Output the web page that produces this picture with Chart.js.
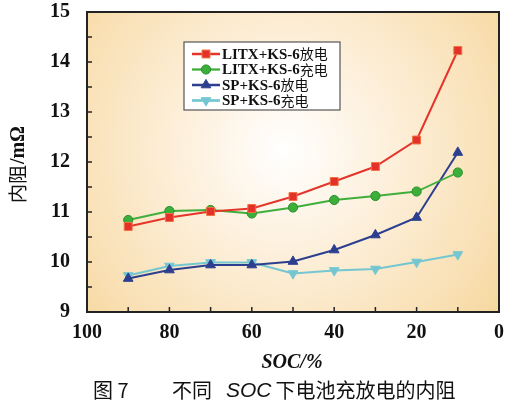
<!DOCTYPE html>
<html>
<head>
<meta charset="utf-8">
<script src="https://cdn.jsdelivr.net/npm/chart.js@4.4.0/dist/chart.umd.min.js"></script>
<style>
  html, body { margin: 0; padding: 0; background: #fff; }
  #wrap { width: 515px; height: 408px; position: relative; }
</style>
</head>
<body>
<div id="wrap"><canvas id="chart"></canvas></div>
<script>
// SOC (%) at each measurement
const soc = [90, 80, 70, 60, 50, 40, 30, 20, 10]
// internal resistance, mOhm
const litxDischarge = [10.71, 10.89, 11.01, 11.07, 11.31, 11.61, 11.91, 12.44, 14.23]
const litxCharge = [10.84, 11.02, 11.04, 10.97, 11.09, 11.24, 11.32, 11.41, 11.79]
const spDischarge = [9.67, 9.84, 9.94, 9.94, 10.01, 10.24, 10.54, 10.89, 12.19]
const spCharge = [9.73, 9.92, 9.99, 9.99, 9.77, 9.83, 9.86, 10.0, 10.15]

const seriesNames = [['LITX+KS-6', '放电'], ['LITX+KS-6', '充电'], ['SP+KS-6', '放电'], ['SP+KS-6', '充电']]
const xTicks = [100, 80, 60, 40, 20, 0]
const yTicks = [9, 10, 11, 12, 13, 14, 15]

const serif = '"Liberation Serif", "Times New Roman", serif'
const cjk = '"Noto Sans CJK SC", sans-serif'

const toPoints = ys => soc.map((x, i) => ({ x: x, y: ys[i] }))

// plot background, frame and inward ticks
const framePlugin = {
  id: 'frame',
  beforeDatasetsDraw(chart) {
    const { ctx, chartArea: a } = chart
    ctx.save()
    const g = ctx.createRadialGradient(285, 150, 0, 285, 150, 290)
    g.addColorStop(0, '#ffffff')
    g.addColorStop(0.35, '#fdf0dc')
    g.addColorStop(0.75, '#f9e0b4')
    g.addColorStop(1, '#f5d496')
    ctx.fillStyle = g
    ctx.fillRect(a.left, a.top, a.right - a.left, a.bottom - a.top)
    ctx.restore()
  },
  afterDatasetsDraw(chart) {
    const { ctx, chartArea: a, scales } = chart
    ctx.save()
    ctx.strokeStyle = '#222'
    ctx.lineWidth = 1.5
    for (let v = 10; v < 100; v += 10) {
      const px = scales.x.getPixelForValue(v)
      ctx.beginPath()
      ctx.moveTo(px, a.bottom)
      ctx.lineTo(px, a.bottom - 5)
      ctx.stroke()
    }
    for (let v = 9.5; v < 15; v += 0.5) {
      const py = scales.y.getPixelForValue(v)
      ctx.beginPath()
      ctx.moveTo(a.left, py)
      ctx.lineTo(a.left + 5, py)
      ctx.stroke()
    }
    ctx.lineWidth = 2
    ctx.strokeRect(a.left, a.top, a.right - a.left, a.bottom - a.top)
    ctx.restore()
  },
}

// boxed legend inside the plot
const legendPlugin = {
  id: 'boxLegend',
  afterDatasetsDraw(chart) {
    const { ctx } = chart
    const x0 = 184, y0 = 42, w = 156, h = 68
    ctx.save()
    ctx.fillStyle = '#fff'
    ctx.fillRect(x0, y0, w, h)
    ctx.strokeStyle = '#555'
    ctx.lineWidth = 1.2
    ctx.strokeRect(x0, y0, w, h)
    chart.data.datasets.forEach((ds, i) => {
      const cy = y0 + 12 + i * 15.5
      ctx.strokeStyle = ds.borderColor
      ctx.lineWidth = ds.borderWidth + 0.5
      ctx.beginPath()
      ctx.moveTo(x0 + 8, cy)
      ctx.lineTo(x0 + 36, cy)
      ctx.stroke()
      ctx.fillStyle = ds.pointBackgroundColor
      ctx.strokeStyle = ds.pointBorderColor
      ctx.lineWidth = 1
      Chart.helpers.drawPoint(ctx, {
        pointStyle: ds.pointStyle,
        rotation: ds.pointRotation || 0,
        radius: ds.pointRadius,
        borderWidth: 1,
      }, x0 + 22, cy)
      ctx.fillStyle = '#111'
      ctx.textBaseline = 'middle'
      ctx.textAlign = 'left'
      ctx.font = 'bold 15px ' + serif
      const name = seriesNames[i]
      ctx.fillText(name[0], x0 + 38, cy + 1)
      const tw = ctx.measureText(name[0]).width
      ctx.font = '14px ' + cjk
      ctx.fillText(name[1], x0 + 38 + tw, cy)
    })
    ctx.restore()
  },
}

// axis titles and figure caption
const textPlugin = {
  id: 'texts',
  afterDraw(chart) {
    const { ctx } = chart
    ctx.save()
    ctx.fillStyle = '#111'
    ctx.textBaseline = 'middle'

    // y title, rotated
    ctx.save()
    ctx.translate(18, 165)
    ctx.rotate(-Math.PI / 2)
    const a = '内阻'
    const b = '/mΩ'
    ctx.font = '19px ' + cjk
    const wa = ctx.measureText(a).width
    ctx.font = 'bold 20px ' + serif
    const wb = ctx.measureText(b).width
    const start = -(wa + wb) / 2
    ctx.textAlign = 'left'
    ctx.font = '19px ' + cjk
    ctx.fillText(a, start, 0)
    ctx.font = 'bold 20px ' + serif
    ctx.fillText(b, start + wa + 1, 1)
    ctx.restore()

    // x title
    ctx.textAlign = 'center'
    ctx.font = 'italic bold 20px ' + serif
    ctx.fillText('SOC/%', 292, 363)

    // caption
    ctx.textAlign = 'left'
    ctx.font = '20px ' + cjk
    ctx.fillText('图 7', 93, 390)
    ctx.fillText('不同', 172, 390)
    ctx.font = 'italic 21px "Liberation Sans", Arial, sans-serif'
    ctx.fillText('SOC', 226, 391)
    const ws = ctx.measureText('SOC').width
    ctx.font = '20px ' + cjk
    ctx.fillText('下电池充放电的内阻', 226 + ws + 4, 390)
    ctx.restore()
  },
}

new Chart(document.getElementById('chart'), {
  type: 'line',
  data: {
    datasets: [
      {
        label: 'LITX+KS-6放电',
        data: toPoints(litxDischarge),
        borderColor: '#e5352b',
        borderWidth: 2,
        pointStyle: 'rect',
        pointRadius: 5.6,
        pointBackgroundColor: '#e3302a',
        pointBorderColor: '#f2703f',
        pointBorderWidth: 1,
      },
      {
        label: 'LITX+KS-6充电',
        data: toPoints(litxCharge),
        borderColor: '#3fae3b',
        borderWidth: 1.8,
        pointStyle: 'circle',
        pointRadius: 4.6,
        pointBackgroundColor: '#3caf3a',
        pointBorderColor: '#2b8f2c',
        pointBorderWidth: 1,
      },
      {
        label: 'SP+KS-6放电',
        data: toPoints(spDischarge),
        borderColor: '#2c3f8f',
        borderWidth: 2,
        pointStyle: 'triangle',
        pointRadius: 5.6,
        pointBackgroundColor: '#2c3f8f',
        pointBorderColor: '#2c3f8f',
        pointBorderWidth: 1,
      },
      {
        label: 'SP+KS-6充电',
        data: toPoints(spCharge),
        borderColor: '#74c7d1',
        borderWidth: 2.2,
        pointStyle: 'triangle',
        pointRotation: 180,
        pointRadius: 5.6,
        pointBackgroundColor: '#74c7d1',
        pointBorderColor: '#74c7d1',
        pointBorderWidth: 1,
      },
    ],
  },
  options: {
    responsive: true,
    maintainAspectRatio: false,
    animation: false,
    layout: { padding: { left: 0, right: 16, top: 12, bottom: 0 } },
    plugins: {
      legend: { display: false },
      tooltip: { enabled: false },
    },
    scales: {
      x: {
        type: 'linear',
        reverse: true,
        min: 0,
        max: 100,
        afterFit: s => {
          s.height = 96
          s.paddingLeft = 0
          s.paddingRight = 0
        },
        afterBuildTicks: s => { s.ticks = xTicks.map(v => ({ value: v })) },
        grid: { display: false, drawTicks: false },
        border: { display: false },
        ticks: {
          padding: 9,
          color: '#111',
          maxRotation: 0,
          font: { family: serif, size: 20, weight: 'bold' },
        },
      },
      y: {
        min: 9,
        max: 15,
        afterFit: s => {
          s.width = 87
          s.paddingTop = 0
          s.paddingBottom = 0
        },
        afterBuildTicks: s => { s.ticks = yTicks.map(v => ({ value: v })) },
        grid: { display: false, drawTicks: false },
        border: { display: false },
        ticks: {
          padding: 17,
          color: '#111',
          font: { family: serif, size: 20, weight: 'bold' },
        },
      },
    },
  },
  plugins: [framePlugin, legendPlugin, textPlugin],
})
</script>
</body>
</html>
